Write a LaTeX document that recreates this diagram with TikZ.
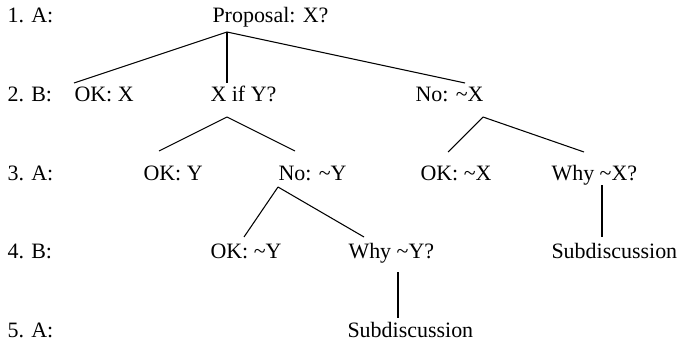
\documentclass[tikz,border=0pt]{standalone}
\usepackage{fontspec}
\setmainfont{Liberation Serif}
\usetikzlibrary{calc}
\newcommand{\tld}{\textasciitilde}

\begin{document}
\begin{tikzpicture}[x=0.02cm,y=-0.02cm,line width=0.6pt,
  txt/.style={inner sep=0pt,anchor=base west,font=\fontsize{12.5}{15}\selectfont}]
\useasboundingbox (0,0) rectangle (682,341);
% ================= turn labels =================
\node[txt] (turn1) at (7,23) {1. A:};
\node[txt] (turn2) at (7,101.5) {2. B:};
\node[txt] (turn3) at (7,180) {3. A:};
\node[txt] (turn4) at (7,258.5) {4. B:};
\node[txt] (turn5) at (7,337) {5. A:};
% ================= moves =================
\node[txt] (prop) at (212,23) {Proposal: X?};
% row 2
\node[txt] (okx) at (74,101.5) {OK: X};
\node[txt] (xify) at (210,101.5) {X if Y?};
\node[txt] (nox) at (415,101.5) {No: \tld X};
% row 3
\node[txt] (oky) at (143,180) {OK: Y};
\node[txt] (noy) at (278,180) {No: \tld Y};
\node[txt] (oknx) at (420,180) {OK: \tld X};
\node[txt] (whyx) at (551,180) {Why \tld X?};
% row 4
\node[txt] (okny) at (210,258.5) {OK: \tld Y};
\node[txt] (whyy) at (348,258.5) {Why \tld Y?};
\node[txt] (subx) at (551,258.5) {Subdiscussion};
% row 5
\node[txt] (suby) at (347,337) {Subdiscussion};
% ================= attach points =================
\coordinate (prop-d) at ($(prop.base west)+(15,9)$);
\coordinate (okx-u) at ($(okx.base west)+(0,-18.5)$);
\coordinate (xify-u) at ($(xify.base west)+(17,-18.5)$);
\coordinate (xify-d) at ($(xify.base west)+(17,15.5)$);
\coordinate (nox-u) at ($(nox.base west)+(50,-18.5)$);
\coordinate (nox-d) at ($(nox.base west)+(68,15.5)$);
\coordinate (oky-u) at ($(oky.base west)+(16,-29)$);
\coordinate (noy-u) at ($(noy.base west)+(17,-29)$);
\coordinate (noy-d) at ($(noy.base west)+(0,7)$);
\coordinate (oknx-u) at ($(oknx.base west)+(28,-28)$);
\coordinate (whyx-u) at ($(whyx.base west)+(33,-28)$);
\coordinate (whyx-d) at ($(whyx.base west)+(51,5)$);
\coordinate (okny-u) at ($(okny.base west)+(34,-21.5)$);
\coordinate (whyy-u) at ($(whyy.base west)+(16,-21.5)$);
\coordinate (whyy-d) at ($(whyy.base west)+(50,13.5)$);
\coordinate (subx-u) at ($(subx.base west)+(51,-21.5)$);
\coordinate (suby-u) at ($(suby.base west)+(51,-19)$);
% ================= tree edges =================
\draw (prop-d) -- (okx-u);
\draw (prop-d) -- (xify-u);
\draw (prop-d) -- (nox-u);
\draw (xify-d) -- (oky-u);
\draw (xify-d) -- (noy-u);
\draw (nox-d) -- (oknx-u);
\draw (nox-d) -- (whyx-u);
\draw (noy-d) -- (okny-u);
\draw (noy-d) -- (whyy-u);
\draw (whyx-d) -- (subx-u);
\draw (whyy-d) -- (suby-u);
\end{tikzpicture}
\end{document}
